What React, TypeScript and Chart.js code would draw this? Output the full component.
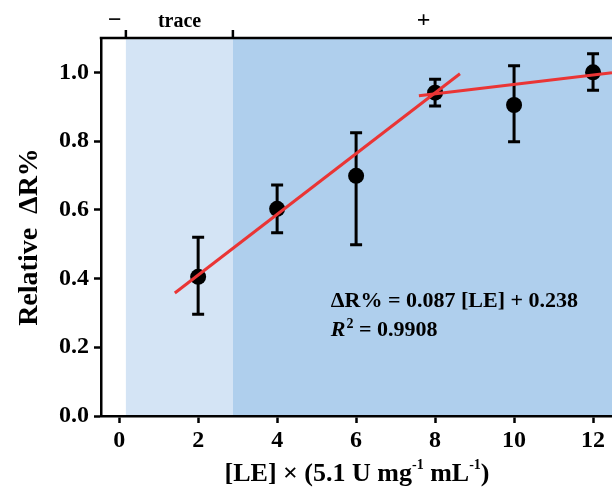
import React, { useEffect, useRef } from "react";
import { Chart, registerables } from "chart.js";

Chart.register(...registerables);

const xVals = [2, 4, 6, 8, 10, 12];
const yMeans = [0.405, 0.603, 0.699, 0.941, 0.905, 1.0];
const yUpper = [0.52, 0.672, 0.824, 0.98, 1.019, 1.054];
const yLower = [0.296, 0.533, 0.498, 0.902, 0.798, 0.948];

const fit1X = [1.41, 8.63];
const fit1Y = [0.358, 0.996];
const fit2X = [7.59, 12.48];
const fit2Y = [0.932, 0.999];

const xTicks = [0, 2, 4, 6, 8, 10, 12];
const yTicks = [0, 0.2, 0.4, 0.6, 0.8, 1.0];

const bandEdges = [0.17, 2.88, 12.48];
const bandColors = ["#d4e4f5", "#afcfed"];

const topLabels = ["\u2212", "trace", "+"];
const topLabelX = [-0.11, 1.53, 7.71];

const eqLine1 = "\u0394R% = 0.087 [LE] + 0.238";
const eqLine2Value = " = 0.9908";
const eqX = 5.36;
const eqY1 = 0.317;
const eqY2 = 0.233;

const FONT = "'Liberation Serif', 'Times New Roman', serif";

const overlayPlugin = {
  id: "overlay",
  beforeDraw(chart: any) {
    const { ctx, chartArea } = chart;
    const xs = chart.scales.x;
    ctx.save();
    for (let i = 0; i < bandColors.length; i++) {
      const a = xs.getPixelForValue(bandEdges[i]);
      const b = Math.min(xs.getPixelForValue(bandEdges[i + 1]), chartArea.right);
      ctx.fillStyle = bandColors[i];
      ctx.fillRect(a, chartArea.top, b - a, chartArea.bottom - chartArea.top);
    }
    ctx.restore();
  },
  beforeDatasetsDraw(chart: any) {
    const { ctx } = chart;
    const xs = chart.scales.x;
    const ys = chart.scales.y;
    ctx.save();
    ctx.strokeStyle = "#000";
    ctx.lineWidth = 3;
    for (let i = 0; i < xVals.length; i++) {
      const px = xs.getPixelForValue(xVals[i]);
      const t = ys.getPixelForValue(yUpper[i]);
      const b = ys.getPixelForValue(yLower[i]);
      ctx.beginPath();
      ctx.moveTo(px, t);
      ctx.lineTo(px, b);
      ctx.moveTo(px - 6, t);
      ctx.lineTo(px + 6, t);
      ctx.moveTo(px - 6, b);
      ctx.lineTo(px + 6, b);
      ctx.stroke();
    }
    ctx.restore();
  },
  afterDraw(chart: any) {
    const { ctx, chartArea } = chart;
    const xs = chart.scales.x;
    const ys = chart.scales.y;
    ctx.save();
    ctx.strokeStyle = "#000";
    ctx.lineWidth = 2.5;
    ctx.beginPath();
    ctx.moveTo(chartArea.left - 1.25, chartArea.top);
    ctx.lineTo(chartArea.right, chartArea.top);
    ctx.stroke();
    for (let i = 0; i < 2; i++) {
      const px = xs.getPixelForValue(bandEdges[i]);
      ctx.beginPath();
      ctx.moveTo(px, chartArea.top);
      ctx.lineTo(px, chartArea.top - 8);
      ctx.stroke();
    }
    ctx.fillStyle = "#000";
    ctx.textAlign = "center";
    ctx.textBaseline = "alphabetic";
    for (let i = 0; i < topLabels.length; i++) {
      ctx.font = i === 1 ? `bold 20px ${FONT}` : `bold 24px ${FONT}`;
      ctx.fillText(topLabels[i], xs.getPixelForValue(topLabelX[i]), 27);
    }
    ctx.textAlign = "left";
    ctx.font = `bold 22px ${FONT}`;
    const ex = xs.getPixelForValue(eqX);
    ctx.fillText(eqLine1, ex, ys.getPixelForValue(eqY1));
    const y2 = ys.getPixelForValue(eqY2);
    ctx.font = `italic bold 22px ${FONT}`;
    ctx.fillText("R", ex, y2);
    let w = ctx.measureText("R").width;
    ctx.font = `bold 14px ${FONT}`;
    ctx.fillText("2", ex + w + 1, y2 - 8);
    w += ctx.measureText("2").width + 1;
    ctx.font = `bold 22px ${FONT}`;
    ctx.fillText(eqLine2Value, ex + w, y2);
    ctx.save();
    ctx.translate(37, 237);
    ctx.rotate(-Math.PI / 2);
    ctx.textAlign = "center";
    ctx.font = `bold 28px ${FONT}`;
    ctx.fillText("Relative  \u0394R%", 0, 0);
    ctx.restore();
    const parts: [string, boolean][] = [
      ["[LE] \u00d7 (5.1 U mg", false],
      ["-1", true],
      [" mL", false],
      ["-1", true],
      [")", false],
    ];
    const big = `bold 26px ${FONT}`;
    const small = `bold 14px ${FONT}`;
    let total = 0;
    for (const [s, sup] of parts) {
      ctx.font = sup ? small : big;
      total += ctx.measureText(s).width;
    }
    let cx = 357 - total / 2;
    const by = 481;
    ctx.textAlign = "left";
    for (const [s, sup] of parts) {
      ctx.font = sup ? small : big;
      ctx.fillText(s, cx, sup ? by - 12 : by);
      cx += ctx.measureText(s).width;
    }
    ctx.restore();
  },
};

export default function App() {
  const ref = useRef<HTMLCanvasElement | null>(null);
  useEffect(() => {
    if (!ref.current) return;
    const chart = new Chart(ref.current, {
      type: "scatter",
      data: {
        datasets: [
          {
            type: "line",
            data: fit1X.map((x, i) => ({ x, y: fit1Y[i] })),
            borderColor: "#ea3535",
            borderWidth: 3,
            pointRadius: 0,
            order: 1,
          } as any,
          {
            type: "line",
            data: fit2X.map((x, i) => ({ x, y: fit2Y[i] })),
            borderColor: "#ea3535",
            borderWidth: 3,
            pointRadius: 0,
            order: 1,
          } as any,
          {
            type: "scatter",
            data: xVals.map((x, i) => ({ x, y: yMeans[i] })),
            backgroundColor: "#000",
            borderColor: "#000",
            pointRadius: 8,
            borderWidth: 0,
            order: 2,
          },
        ],
      },
      options: {
        animation: false,
        responsive: false,
        layout: { autoPadding: false, padding: { top: 38, right: 0, left: 0, bottom: 0 } },
        plugins: { legend: { display: false }, tooltip: { enabled: false } },
        scales: {
          x: {
            type: "linear",
            min: -0.46,
            max: 12.48,
            afterBuildTicks: (s: any) => {
              s.ticks = xTicks.map((v) => ({ value: v }));
            },
            afterFit: (s: any) => {
              s.height = 72;
              s.paddingLeft = 0;
              s.paddingRight = 0;
            },
            grid: {
              drawOnChartArea: false,
              drawTicks: true,
              tickLength: 7,
              tickWidth: 2.5,
              tickColor: "#000",
            },
            border: { display: true, color: "#000", width: 2.5 },
            ticks: {
              color: "#000",
              font: { family: FONT, size: 24, weight: "bold" },
              padding: 3,
              maxRotation: 0,
              callback: (v: any) => String(v),
            },
          },
          y: {
            type: "linear",
            min: 0,
            max: 1.1,
            afterBuildTicks: (s: any) => {
              s.ticks = yTicks.map((v) => ({ value: v }));
            },
            afterFit: (s: any) => {
              s.width = 101;
              s.paddingTop = 0;
              s.paddingBottom = 0;
            },
            grid: {
              drawOnChartArea: false,
              drawTicks: true,
              tickLength: 7,
              tickWidth: 2.5,
              tickColor: "#000",
            },
            border: { display: true, color: "#000", width: 2.5 },
            ticks: {
              color: "#000",
              font: { family: FONT, size: 24, weight: "bold" },
              padding: 5,
              callback: (v: any) => Number(v).toFixed(1),
            },
          },
        },
      },
      plugins: [overlayPlugin],
    } as any);
    return () => chart.destroy();
  }, []);
  return (
    <div style={{ position: "absolute", left: 0, top: 0, width: 612, height: 488 }}>
      <canvas ref={ref} width={612} height={488} style={{ display: "block" }} />
    </div>
  );
}
